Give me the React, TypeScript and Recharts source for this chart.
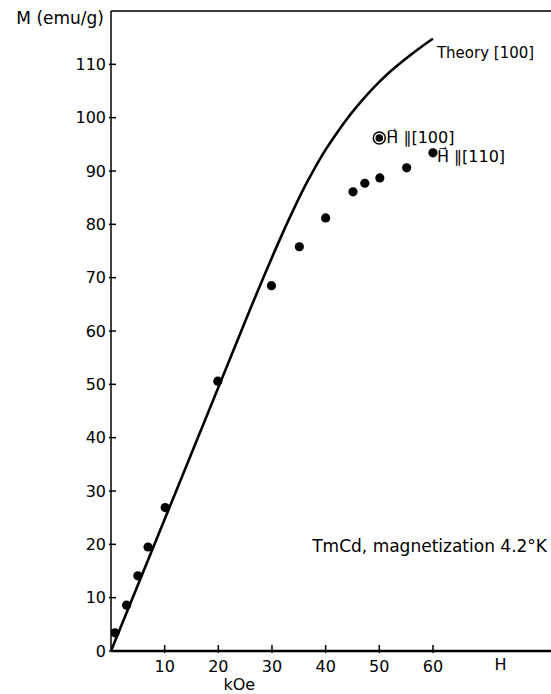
import React from 'react';
import { ComposedChart, Line, Scatter, XAxis, YAxis, ReferenceDot, ReferenceLine } from 'recharts';

// theory curve, H || [100]
const theoryH = [0, 10, 20, 25, 30, 33, 36, 38, 40, 42, 44, 46, 48, 50, 52, 54, 56, 58, 60];
const theoryM = [0, 24.7, 49.4, 61.8, 73.8, 80.6, 86.9, 90.6, 94, 97, 99.8, 102.3, 104.6, 106.7, 108.6, 110.3, 111.9, 113.4, 114.8];

// measured, H || [110]
const measH = [0.75, 2.9, 5, 6.9, 10.1, 19.9, 29.9, 35.1, 40, 45.1, 47.3, 50.1, 55.1, 60];
const measM = [3.4, 8.6, 14.1, 19.5, 26.9, 50.6, 68.5, 75.8, 81.2, 86.1, 87.7, 88.7, 90.6, 93.4];

// measured, H || [100]
const circH = [50];
const circM = [96.2];

const xTicks = [10, 20, 30, 40, 50, 60];
const yTicks = [0, 10, 20, 30, 40, 50, 60, 70, 80, 90, 100, 110];

const FONT = '"DejaVu Sans", sans-serif';

const theory = theoryH.map((h, i) => ({ h, m: theoryM[i] }));
const meas = measH.map((h, i) => ({ h, m: measM[i] }));
const circ = circH.map((h, i) => ({ h, m: circM[i] }));

const YTick = (props: any) => {
  const { x, y, payload } = props;
  return (
    <g>
      <line x1={x} y1={y} x2={x + 7} y2={y} stroke="#000" strokeWidth={1.5} />
      <text x={x - 3} y={y} textAnchor="end" dominantBaseline="central" fontFamily={FONT} fontSize={16} fill="#000">
        {payload.value}
      </text>
    </g>
  );
};

const XTick = (props: any) => {
  const { x, y, payload } = props;
  return (
    <g>
      <line x1={x} y1={y} x2={x} y2={y - 8} stroke="#000" strokeWidth={1.5} />
      <text x={x} y={y + 13} textAnchor="middle" dominantBaseline="central" fontFamily={FONT} fontSize={16} fill="#000">
        {payload.value}
      </text>
    </g>
  );
};

const txt = (value: string, dx: number, dy: number, anchor = 'start', size = 16) => (p: any) => (
  <text
    x={p.viewBox.x + dx}
    y={p.viewBox.y + dy}
    textAnchor={anchor}
    dominantBaseline="central"
    fontFamily={FONT}
    fontSize={size}
    fill="#000"
  >
    {value}
  </text>
);

const Ringed = (props: any) => {
  const { cx, cy } = props;
  return (
    <g>
      <circle cx={cx} cy={cy} r={6} fill="none" stroke="#000" strokeWidth={1.5} />
      <circle cx={cx} cy={cy} r={3.8} fill="#000" />
    </g>
  );
};

export default function App() {
  return (
    <div style={{ position: 'absolute', left: 0, top: 0, background: '#fff' }}>
      <ComposedChart width={551} height={694} margin={{ top: 11, right: 0, bottom: 0, left: 0 }}>
        <XAxis
          type="number"
          dataKey="h"
          domain={[0, 82]}
          ticks={xTicks}
          tick={<XTick />}
          tickLine={false}
          tickSize={0}
          height={43}
          axisLine={{ stroke: '#000', strokeWidth: 2.5 }}
          allowDataOverflow
        />
        <YAxis
          type="number"
          dataKey="m"
          domain={[0, 120]}
          ticks={yTicks}
          tick={<YTick />}
          tickLine={false}
          tickSize={0}
          width={111}
          axisLine={{ stroke: '#000', strokeWidth: 1.5 }}
          interval={0}
        />
        <ReferenceLine y={120} stroke="#000" strokeWidth={1.5} />
        <Line
          data={theory}
          dataKey="m"
          type="monotone"
          stroke="#000"
          strokeWidth={2.6}
          dot={false}
          isAnimationActive={false}
        />
        <Scatter data={meas} fill="#000" shape={(p: any) => <circle cx={p.cx} cy={p.cy} r={4.6} fill="#000" />} isAnimationActive={false} />
        <Scatter data={circ} shape={<Ringed />} isAnimationActive={false} />

        <ReferenceDot x={theoryH[theoryH.length - 1]} y={theoryM[theoryM.length - 1]} r={0} fill="none" stroke="none" ifOverflow="visible" label={txt('Theory [100]', 4, 14, 'start', 15)} />
        <ReferenceDot x={circH[0]} y={circM[0]} r={0} fill="none" stroke="none" ifOverflow="visible" label={txt('H\u20D7 \u2225[100]', 7, 0, 'start', 16)} />
        <ReferenceDot x={measH[measH.length - 1]} y={measM[measM.length - 1]} r={0} fill="none" stroke="none" ifOverflow="visible" label={txt('H\u20D7 \u2225[110]', 4, 4, 'start', 16)} />
        <ReferenceDot x={37.5} y={19.6} r={0} fill="none" stroke="none" ifOverflow="visible" label={txt('TmCd, magnetization 4.2°K', 0, 0, 'start', 17)} />
        <ReferenceDot x={72.6} y={0} r={0} fill="none" stroke="none" ifOverflow="visible" label={txt('H', 0, 13, 'middle', 16)} />
        <ReferenceDot x={23.9} y={0} r={0} fill="none" stroke="none" ifOverflow="visible" label={txt('kOe', 0, 33, 'middle', 16)} />
        <ReferenceDot x={0} y={120} r={0} fill="none" stroke="none" ifOverflow="visible" label={txt('M (emu/g)', -7, 7, 'end', 17)} />
      </ComposedChart>
    </div>
  );
}
